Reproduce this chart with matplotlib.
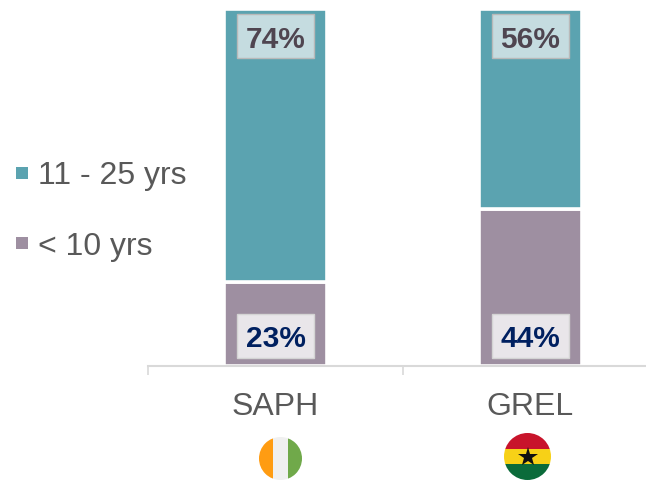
import matplotlib

matplotlib.use("Agg")
import matplotlib.pyplot as plt
from matplotlib.patches import Circle, Rectangle

plt.rcParams["font.family"] = ["Liberation Sans", "DejaVu Sans"]

TEAL = "#5ba3b0"
MAUVE = "#9e8fa1"
GREY = "#595959"
AXIS = "#d9d9d9"

W, H = 646, 481
SCALE = 3.567  # pixels per percentage point

sites = ["SAPH", "GREL"]
under_10 = [23.5, 44]
# SAPH's printed labels add to 97 but the bar fills the full height
mid_11_25 = [76.5, 56]
mid_labels = ["74%", "56%"]
under_labels = ["23%", "44%"]
legend_labels = ["11 - 25 yrs", "< 10 yrs"]
legend_colors = [TEAL, MAUVE]

ivory_stripes = ["#ff9c12", "#f0f0f0", "#70a94a"]
ghana_stripes = ["#c8142b", "#f7d117", "#0b6b3a"]


def px_axes(fig, x0, y0, x1, y1):
    """Axes covering a pixel box, y counted from the top of the picture."""
    return fig.add_axes([x0 / W, 1 - y1 / H, (x1 - x0) / W, (y1 - y0) / H])


fig = plt.figure(figsize=(W / 100, H / 100), dpi=100, facecolor="white")

ax = px_axes(fig, 148, 0, W, 366.5)
ax.bar(range(2), under_10, width=0.404, color=MAUVE, edgecolor="white", linewidth=2.6)
ax.bar(range(2), mid_11_25, width=0.404, bottom=under_10, color=TEAL,
       edgecolor="white", linewidth=2.6)
ax.set_yticks([])
ax.set_xticks([-0.5, 0.5])
ax.set_xticklabels([])
ax.set_xlim(-0.5, -0.5 + (W - 148) / 255)
ax.set_ylim(0, 366.5 / SCALE)

for i in range(2):
    ax.add_patch(Rectangle((i - 0.151, 86.2), 0.302, 12.3, facecolor="#c5dce0",
                           edgecolor="#b9b9b9", linewidth=1, zorder=3))
    ax.text(i, 91.4, mid_labels[i], ha="center", va="center", fontsize=21.5,
            fontweight="bold", color="#4f4550", zorder=4)
    ax.add_patch(Rectangle((i - 0.151, 2.1), 0.302, 12.3, facecolor="#e9e6ea",
                           edgecolor="#d4d4d4", linewidth=1, zorder=3))
    ax.text(i, 7.7, under_labels[i], ha="center", va="center", fontsize=21.5,
            fontweight="bold", color="#002060", zorder=4)

ax.spines[["top", "right", "left"]].set_visible(False)
ax.spines["bottom"].set_color(AXIS)
ax.spines["bottom"].set_linewidth(1.5)
ax.tick_params(axis="x", length=6.5, width=1.2, color=AXIS)
for i, name in enumerate(sites):
    ax.annotate(name, (i, 0), xytext=(0, -41), textcoords="offset pixels", ha="center",
                va="center", fontsize=23, color=GREY)

# legend and flags live on a full-picture overlay in pixel coordinates
ov = fig.add_axes([0, 0, 1, 1], zorder=5)
ov.set_xlim(0, W)
ov.set_ylim(H, 0)
ov.axis("off")
for label, color, y, ty in zip(legend_labels, legend_colors, [174, 244], [176, 247]):
    ov.add_patch(Rectangle((16, y - 6), 12, 12, facecolor=color, edgecolor="none"))
    ov.text(38, ty, label, ha="left", va="center", fontsize=23, color=GREY)


def flag(cx, cy, r, edges, colors, vertical):
    clip = Circle((cx, cy), r, transform=ov.transData)
    for (a, b), c in zip(zip(edges[:-1], edges[1:]), colors):
        if vertical:
            box = Rectangle((a, cy - r), b - a, 2 * r, facecolor=c, edgecolor="none")
        else:
            box = Rectangle((cx - r, a), 2 * r, b - a, facecolor=c, edgecolor="none")
        ov.add_patch(box)
        box.set_clip_path(clip)


flag(280.5, 459.5, 21.5, [259, 273, 288, 302], ivory_stripes, True)
flag(527.5, 457.5, 23.5, [434, 450, 465, 481], ghana_stripes, False)
ov.plot([527.5], [458], marker="*", markersize=15, color="#111111", markeredgewidth=0)

fig.savefig("out.png", dpi=100, facecolor="white")
